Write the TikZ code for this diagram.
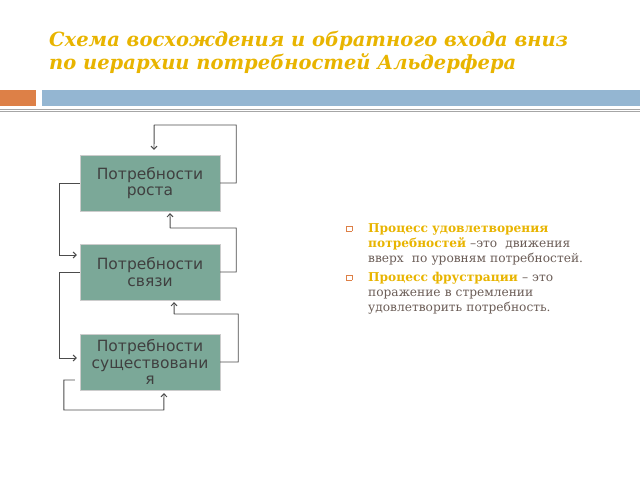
\documentclass[tikz,border=0pt]{standalone}
\usepackage{fontspec}
\setmainfont{DejaVu Serif}
\newfontfamily\boxfont{DejaVu Sans}
\usetikzlibrary{positioning}
\usetikzlibrary{arrows.meta}
\definecolor{titlegold}{HTML}{E8B400}
\definecolor{barblue}{HTML}{94B6D2}
\definecolor{barorange}{HTML}{DD8047}
\definecolor{boxgreen}{HTML}{7BA898}
\definecolor{textgray}{HTML}{6B5D57}
\tikzset{
  need/.style={draw=gray!40, fill=boxgreen, minimum width=140pt, minimum height=56pt, align=center, font=\boxfont\fontsize{15.5}{16.5}\selectfont, text=black!75, inner sep=1pt},
  loop/.style={draw=black!70, line width=0.9pt, -{Straight Barb[length=3pt,width=6pt,line width=1pt]}}
}
\begin{document}
\begin{tikzpicture}[x=1pt,y=-1pt]
\useasboundingbox (0,0) rectangle (640,480);
% heading
\node[anchor=west, text=titlegold, font=\bfseries\itshape\fontsize{19.5}{23}\selectfont, align=left, inner sep=0pt] (title) at (49,52) {Схема восхождения и обратного входа вниз\\по иерархии потребностей Альдерфера};
\fill[barorange] (0,90) rectangle (36,106);
\fill[barblue] (42,90) rectangle (640,106);
\draw[gray!70, line width=0.6pt] (0,109) -- (640,109);
\draw[gray!70, line width=0.6pt] (0,111.5) -- (640,111.5);
% levels
\node[need] (grow) at (150,183) {Потребности\\роста};
\node[need] (rel) at (150,272) {Потребности\\связи};
\node[need] (exist) at (150,362) {Потребности\\существовани\\я};
% connectors
\draw[loop] (grow.east) -- ++(16,0) |- ++(-82,-58) -- ([xshift=4pt,yshift=5pt]grow.north);
\draw[loop] (grow.west) -- ++(-20,0) |- ([xshift=-3pt,yshift=17pt]rel.west);
\draw[loop] (rel.east) -- ++(16,0) |- ++(-66,-44) -- ([xshift=20pt,yshift=-2pt]grow.south);
\draw[loop] (rel.west) -- ++(-20,0) |- ([xshift=-3pt,yshift=4pt]exist.west);
\draw[loop] (exist.east) -- ++(18,0) |- ++(-64,-48) -- ([xshift=24pt,yshift=-2pt]rel.south);
\coordinate (selfstart) at ([xshift=-5pt,yshift=-18pt]exist.west);
\draw[loop] (selfstart) -- ++(-11,0) |- ++(100,30) -- ([xshift=14pt,yshift=-3pt]exist.south);
% notes
\node[anchor=north west, text width=225pt, align=left, text=textgray, font=\fontsize{12.2}{15}\selectfont, inner sep=0pt] (notes) at (368,223) {%
\makebox[0pt][r]{\color{barorange}\raisebox{1pt}{\fboxsep=0pt\fboxrule=0.5pt\fbox{\rule{0pt}{5pt}\hspace{5pt}}}\hspace{16pt}}\textcolor{titlegold}{\textbf{Процесс удовлетворения потребностей}} –это \ движения вверх \ по уровням потребностей.\par\vspace{4pt}
\makebox[0pt][r]{\color{barorange}\raisebox{1pt}{\fboxsep=0pt\fboxrule=0.5pt\fbox{\rule{0pt}{5pt}\hspace{5pt}}}\hspace{16pt}}\textcolor{titlegold}{\textbf{Процесс фрустрации}} – это поражение в стремлении удовлетворить потребность.};
\end{tikzpicture}
\end{document}
